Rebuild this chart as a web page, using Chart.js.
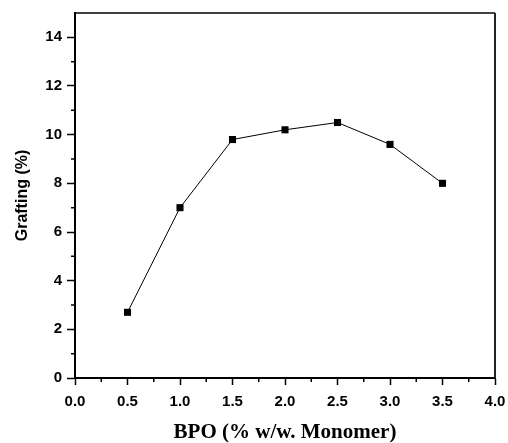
<!DOCTYPE html>
<html>
<head>
<meta charset="utf-8">
<script src="https://cdn.jsdelivr.net/npm/chart.js@4/dist/chart.umd.min.js"></script>
<style>
    body { margin: 0; background: #fff; }
    #wrap { width: 508px; height: 443px; }
</style>
</head>
<body>
<div id="wrap"><canvas id="graftChart" width="508" height="443"></canvas></div>
<script>
// BPO concentration (% w/w monomer) vs grafting (%)
const bpo = [0.5, 1.0, 1.5, 2.0, 2.5, 3.0, 3.5];
const grafting = [2.7, 7.0, 9.8, 10.2, 10.5, 9.6, 8.0];
const xMinorTicks = [0.25, 0.75, 1.25, 1.75, 2.25, 2.75, 3.25, 3.75];
const yMinorTicks = [1, 3, 5, 7, 9, 11, 13];

// minor ticks + top/right frame lines
const framePlugin = {
    id: 'frame',
    afterDraw(chart) {
        const ctx = chart.ctx;
        const { left, right, top, bottom } = chart.chartArea;
        const xs = chart.scales.x, ys = chart.scales.y;
        ctx.save();
        ctx.strokeStyle = '#000';
        ctx.lineWidth = 1.5;
        ctx.beginPath();
        xMinorTicks.forEach(v => {
            const px = xs.getPixelForValue(v);
            ctx.moveTo(px, bottom);
            ctx.lineTo(px, bottom + 4);
        });
        yMinorTicks.forEach(v => {
            const py = ys.getPixelForValue(v);
            ctx.moveTo(left, py);
            ctx.lineTo(left - 4, py);
        });
        ctx.stroke();
        ctx.lineWidth = 1.5;
        ctx.beginPath();
        ctx.moveTo(left, top);
        ctx.lineTo(right, top);
        ctx.stroke();
        ctx.strokeStyle = '#222';
        ctx.lineWidth = 2;
        ctx.beginPath();
        ctx.moveTo(right, top);
        ctx.lineTo(right, bottom);
        ctx.stroke();
        ctx.restore();
    }
};

function noOverflow(scale) {
    scale.paddingLeft = 0;
    scale.paddingRight = 0;
    scale.paddingTop = 0;
    scale.paddingBottom = 0;
}

const ctx = document.getElementById('graftChart').getContext('2d');
const chart = new Chart(ctx, {
    type: 'scatter',
    data: {
        datasets: [{
            data: bpo.map((x, i) => ({ x: x, y: grafting[i] })),
            showLine: true,
            borderColor: '#000',
            borderWidth: 1,
            pointStyle: 'rect',
            pointRadius: 5,
            pointBorderWidth: 0,
            pointBackgroundColor: '#000',
            pointBorderColor: '#000'
        }]
    },
    options: {
        responsive: false,
        animation: false,
        layout: { padding: { top: 13, right: 13, left: 0, bottom: 0 } },
        plugins: {
            legend: { display: false },
            tooltip: { enabled: false }
        },
        scales: {
            x: {
                type: 'linear',
                min: 0,
                max: 4,
                afterFit(scale) { scale.height = 65; noOverflow(scale); },
                border: { display: true, color: '#000', width: 2 },
                grid: { drawOnChartArea: false, drawTicks: true, tickLength: 7, tickColor: '#000', tickWidth: 1.5 },
                ticks: {
                    stepSize: 0.5,
                    color: '#000',
                    padding: 8,
                    font: { family: 'Liberation Sans, Arial, sans-serif', size: 15, weight: 'bold' },
                    callback: v => v.toFixed(1)
                },
                title: {
                    display: true,
                    text: 'BPO (% w/w. Monomer)',
                    color: '#000',
                    padding: 0,
                    font: { family: 'Liberation Serif, Times New Roman, serif', size: 21, weight: 'bold', lineHeight: 1 }
                }
            },
            y: {
                type: 'linear',
                min: 0,
                max: 15,
                afterFit(scale) { scale.width = 75; noOverflow(scale); },
                border: { display: true, color: '#000', width: 2 },
                grid: { drawOnChartArea: false, drawTicks: true, tickLength: 8, tickColor: '#000', tickWidth: 1.5 },
                ticks: {
                    stepSize: 2,
                    includeBounds: false,
                    color: '#000',
                    padding: 5,
                    font: { family: 'Liberation Sans, Arial, sans-serif', size: 15, weight: 'bold' }
                },
                title: {
                    display: true,
                    text: 'Grafting (%)',
                    color: '#000',
                    padding: { top: 15, bottom: 0 },
                    font: { family: 'Liberation Sans, Arial, sans-serif', size: 16, weight: 'bold', lineHeight: 1 }
                }
            }
        }
    },
    plugins: [framePlugin]
});
</script>
</body>
</html>
